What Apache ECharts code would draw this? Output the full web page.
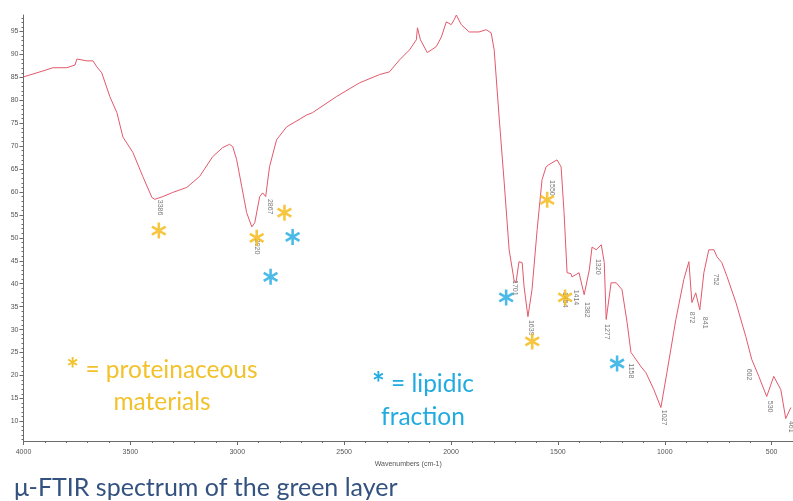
<!DOCTYPE html>
<html>
<head>
<meta charset="utf-8">
<title>μ-FTIR spectrum of the green layer</title>
<script src="https://cdn.jsdelivr.net/npm/echarts@6/dist/echarts.min.js"></script>
<style>
  html, body { margin: 0; padding: 0; background: #fff; }
  #main { width: 793px; height: 501px; }
</style>
</head>
<body>
<div id="main"></div>
<script>
// spectrum (wavenumber cm-1, %T)
const wavenumbers = [4000, 3909, 3862, 3797, 3759, 3750, 3703, 3675, 3657, 3634, 3596, 3563, 3535, 3488, 3442, 3399, 3386,
  3348, 3302, 3236, 3176, 3115, 3068, 3036, 3021, 3003, 2979, 2956, 2932, 2918, 2895, 2881, 2867, 2849, 2816, 2769,
  2675, 2648, 2536, 2428, 2335, 2288, 2241, 2194, 2162, 2157, 2143, 2111, 2069, 2045, 2022, 1999, 1985, 1975, 1952,
  1915, 1869, 1835, 1812, 1798, 1775, 1751, 1728, 1705, 1696, 1682, 1667, 1658, 1640, 1621, 1597, 1574, 1555, 1541,
  1504, 1485, 1471, 1457, 1439, 1434, 1415, 1401, 1377, 1353, 1340, 1321, 1297, 1283, 1274, 1251, 1227, 1200, 1176,
  1158, 1144, 1111, 1088, 1051, 1018, 990, 948, 911, 887, 873, 855, 836, 817, 794, 770, 756, 733, 709, 667, 621, 593,
  560, 523, 490, 457, 434, 410];
const transmittance = [85.1, 86.4, 87.1, 87.1, 87.7, 89.0, 88.6, 88.6, 87.3, 86.0, 80.8, 77.3, 72.0, 68.6, 63.4, 58.8, 58.4,
  59.0, 59.9, 61.0, 63.4, 67.7, 69.7, 70.4, 69.9, 67.1, 61.2, 55.5, 52.4, 53.3, 59.0, 59.8, 59.0, 65.5, 71.4, 74.2,
  76.8, 77.3, 80.8, 83.8, 85.6, 86.2, 88.8, 91.0, 93.2, 95.8, 93.2, 90.4, 91.7, 93.8, 97.1, 96.5, 97.6, 98.6, 96.5,
  94.9, 94.9, 95.4, 94.7, 91.0, 76.4, 62.0, 47.4, 40.8, 40.2, 44.8, 44.6, 39.3, 32.8, 38.7, 51.8, 62.7, 65.5, 66.0,
  67.0, 65.5, 55.5, 42.4, 42.2, 41.5, 42.0, 42.4, 37.6, 43.0, 48.0, 47.4, 48.5, 44.6, 32.2, 40.2, 40.2, 38.7, 31.5,
  25.0, 24.1, 21.9, 20.6, 16.9, 13.0, 20.6, 32.2, 40.9, 44.8, 35.9, 38.0, 34.3, 42.4, 47.4, 47.4, 45.9, 44.6, 41.6,
  35.9, 28.5, 23.5, 19.8, 15.4, 19.8, 16.9, 10.6, 13.0];

// peak labels printed by the instrument software
const peakNames = ["3386", "2920", "2867", "1701", "1639", "1550", "1454", "1414", "1382", "1320", "1277", "1158",
  "1027", "872", "841", "752", "602", "530", "461"];
const peakX = [3362, 2909, 2849, 1700, 1625, 1527, 1466, 1415, 1363, 1312, 1270, 1158, 1004, 873, 812, 761, 607, 509, 411];
const peakY = [56.6, 48.1, 56.8, 39.1, 30.4, 60.9, 36.5, 37.0, 34.3, 43.7, 29.5, 21.0, 10.8, 32.6, 31.5, 40.9, 20.2, 13.2, 8.8];

// asterisk markers
const proteinX = [3367, 2909, 2779, 1550, 1466, 1620];
const proteinY = [51.6, 50.0, 55.5, 58.3, 37.0, 27.4];
const lipidX = [2741, 2844, 1742, 1223];
const lipidY = [50.2, 41.5, 37.0, 22.6];

// axis tick labels
const xTickLabels = [4000, 3500, 3000, 2500, 2000, 1500, 1000, 500];
const yTickLabels = [10, 15, 20, 25, 30, 35, 40, 45, 50, 55, 60, 65, 70, 75, 80, 85, 90, 95];

const xMinorTicks = [];
for (let v = 400; v <= 4000; v += 100) xMinorTicks.push(v);
const yMinorTicks = [];
for (let v = 6; v <= 98; v += 1) yMinorTicks.push(v);

const asterisk = "path://M-1.3,-8L1.3,-8L1.3,8L-1.3,8Z" +
  "M-7.58,-2.87L-6.28,-5.13L7.58,2.87L6.28,5.13Z" +
  "M-6.28,5.13L-7.58,2.87L6.28,-5.13L7.58,-2.87Z";

const axisGrey = "#6b6b6b";
const smallFont = "Liberation Sans";
const plain = (v) => String(v);

let myChart = echarts.init(document.getElementById("main"));

let option = {
  backgroundColor: "#fff",
  animation: false,
  grid: { left: 23.5, right: -1, top: 15, bottom: 60 },
  xAxis: [
    {
      type: "value",
      inverse: true,
      min: 400,
      max: 4000,
      position: "bottom",
      name: "Wavenumbers (cm-1)",
      nameLocation: "middle",
      nameGap: 20,
      nameTextStyle: { fontSize: 7, color: "#555", fontFamily: smallFont },
      axisLine: { show: true, lineStyle: { color: axisGrey, width: 1 } },
      axisTick: { show: true, customValues: xTickLabels, length: 4, lineStyle: { color: axisGrey } },
      axisLabel: { customValues: xTickLabels, formatter: plain, fontSize: 7, color: "#555", margin: 8, fontFamily: smallFont },
      splitLine: { show: false }
    },
    {
      type: "value",
      inverse: true,
      min: 400,
      max: 4000,
      position: "bottom",
      offset: 0,
      axisLine: { show: false },
      axisTick: { show: true, customValues: xMinorTicks, length: 2, lineStyle: { color: axisGrey } },
      axisLabel: { show: false },
      splitLine: { show: false }
    }
  ],
  yAxis: [
    {
      type: "value",
      min: 5.7,
      max: 98.6,
      position: "left",
      axisLine: { show: true, lineStyle: { color: axisGrey, width: 1 } },
      axisTick: { show: true, customValues: yTickLabels, length: 4, lineStyle: { color: axisGrey } },
      axisLabel: { customValues: yTickLabels, formatter: plain, fontSize: 7, color: "#555", margin: 5, fontFamily: smallFont },
      splitLine: { show: false }
    },
    {
      type: "value",
      min: 5.7,
      max: 98.6,
      position: "left",
      offset: 0,
      axisLine: { show: false },
      axisTick: { show: true, customValues: yMinorTicks, length: 2, lineStyle: { color: axisGrey } },
      axisLabel: { show: false },
      splitLine: { show: false }
    }
  ],
  series: [
    {
      name: "spectrum",
      type: "line",
      data: wavenumbers.map((w, i) => [w, transmittance[i]]),
      showSymbol: false,
      silent: true,
      lineStyle: { color: "#e2596b", width: 1 },
      z: 2
    },
    {
      name: "peaks",
      type: "scatter",
      data: peakX.map((w, i) => ({ value: [w, peakY[i]], name: peakNames[i] })),
      symbol: "circle",
      symbolSize: 0.1,
      itemStyle: { color: "rgba(0,0,0,0)" },
      silent: true,
      label: {
        show: true,
        position: "inside",
        formatter: "{b}",
        rotate: -90,
        align: "center",
        verticalAlign: "middle",
        fontSize: 7,
        color: "#555",
        fontFamily: smallFont
      },
      z: 3
    },
    {
      name: "proteinaceous",
      type: "scatter",
      data: proteinX.map((w, i) => [w, proteinY[i]]),
      symbol: asterisk,
      symbolSize: [15, 16],
      itemStyle: { color: "#f5b812" },
      silent: true,
      z: 4
    },
    {
      name: "lipidic",
      type: "scatter",
      data: lipidX.map((w, i) => [w, lipidY[i]]),
      symbol: asterisk,
      symbolSize: [15, 16],
      itemStyle: { color: "#1ea9e1" },
      silent: true,
      z: 4
    }
  ],
  // legend texts and caption are free text, placed in pixels
  graphic: [
    {
      type: "text",
      x: 162,
      y: 386,
      style: {
        text: "{s|*} = proteinaceous\nmaterials",
        fill: "#f2c22c",
        font: "24.5px Lato",
        lineHeight: 32,
        align: "center",
        verticalAlign: "middle",
        rich: { s: { fontSize: 30, fontWeight: "bold", fill: "#f2c22c", fontFamily: "Lato" } }
      }
    },
    {
      type: "text",
      x: 423,
      y: 401,
      style: {
        text: "{s|*} = lipidic\nfraction",
        fill: "#22abe0",
        font: "24.5px Lato",
        lineHeight: 33,
        align: "center",
        verticalAlign: "middle",
        rich: { s: { fontSize: 30, fontWeight: "bold", fill: "#22abe0", fontFamily: "Lato" } }
      }
    },
    {
      type: "text",
      x: 14,
      y: 488,
      style: {
        text: "μ-FTIR spectrum of the green layer",
        fill: "#34527f",
        font: "25px Lato",
        align: "left",
        verticalAlign: "middle"
      }
    }
  ]
};

myChart.setOption(option);
</script>
</body>
</html>
